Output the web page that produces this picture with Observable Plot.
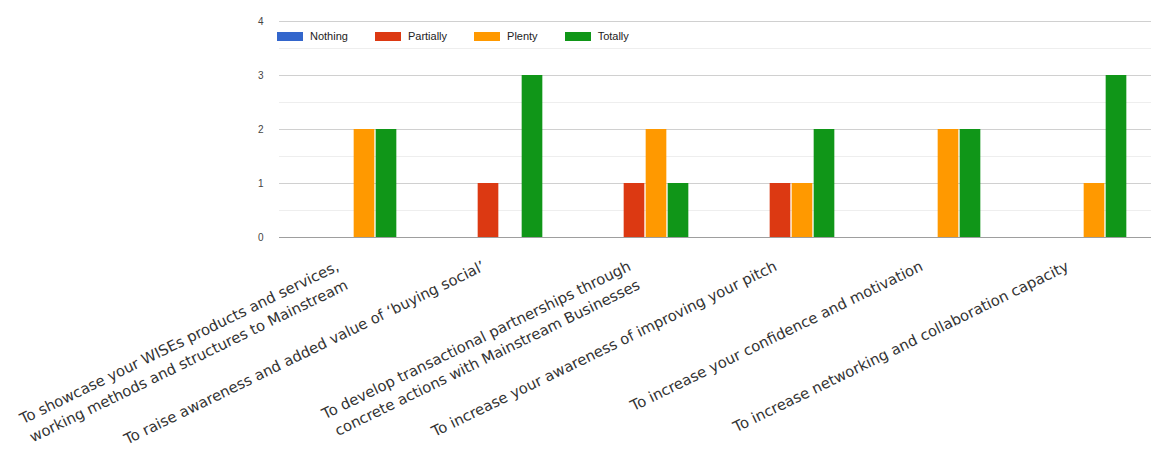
<!DOCTYPE html>
<html>
<head>
<meta charset="utf-8">
<script src="https://cdn.jsdelivr.net/npm/d3@7"></script>
<script src="https://cdn.jsdelivr.net/npm/@observablehq/plot@0.6"></script>
<style>
  body { margin: 0; background: #fff; font-family: "Liberation Sans", Arial, sans-serif; }
  #wrap { position: relative; width: 1151px; height: 456px; overflow: hidden; }
  #legend { position: absolute; left: 277px; top: 30px; display: flex; align-items: center; font-size: 11px; color: #222; }
  #legend .item { display: flex; align-items: center; margin-right: 27px; }
  #legend .sw { width: 26px; height: 9px; margin-right: 7px; }
</style>
</head>
<body>
<div id="wrap"><div id="legend"></div></div>
<script>
const categories = [
  "To showcase your WISEs products and services,\nworking methods and structures to Mainstream",
  "To raise awareness and added value of \u2018buying social\u2019",
  "To develop transactional partnerships through\nconcrete actions with Mainstream Businesses",
  "To increase your awareness of improving your pitch",
  "To increase your confidence and motivation",
  "To increase networking and collaboration capacity"
];
const seriesNames = ["Nothing", "Partially", "Plenty", "Totally"];
const seriesColors = ["#3366cc", "#dc3912", "#ff9900", "#109618"];
const nothing   = [0, 0, 0, 0, 0, 0];
const partially = [0, 1, 1, 1, 0, 0];
const plenty    = [2, 0, 2, 1, 2, 1];
const totally   = [2, 3, 1, 2, 2, 3];
const yTicks = [0, 1, 2, 3, 4];
const yMinor = [0.5, 1.5, 2.5, 3.5];

const seriesValues = [nothing, partially, plenty, totally];
const rows = [];
seriesNames.forEach((s, si) => categories.forEach((c, ci) => rows.push({category: c, series: s, si, value: seriesValues[si][ci]})));

const W = 1151, H = 456, mL = 279, mR = -6, mT = 21, mB = H - 237;
const bandW = (W - mL - mR) / categories.length;
const barW = 22;

const barMarks = seriesNames.map((s, si) => {
  const left = bandW / 2 - 2 * barW + si * barW + 0.5;
  const right = bandW - left - barW + 1;
  return Plot.barY(rows.filter(d => d.si === si && d.value > 0), {
    x: "category", y: "value", fill: seriesColors[si], insetLeft: left, insetRight: right
  });
});

const chart = Plot.plot({
  width: W, height: H,
  marginLeft: mL, marginRight: mR, marginTop: mT, marginBottom: mB,
  style: {fontSize: "10px", fontFamily: "'Liberation Sans', Arial, sans-serif", color: "#444", background: "transparent"},
  x: {domain: categories, padding: 0, axis: null},
  y: {domain: [0, 4], ticks: yTicks, tickSize: 0, tickPadding: 16, label: null, tickFormat: d => String(d)},
  marks: [
    Plot.ruleY(yMinor, {stroke: "#eeeeee"}),
    Plot.ruleY(yTicks.filter(t => t > 0), {stroke: "#d0d0d0"}),
    ...barMarks,
    Plot.ruleY([0], {stroke: "#9e9e9e", strokeWidth: 1.2}),
    Plot.text(categories, {
      x: d => d, text: d => d, frameAnchor: "bottom",
      dx: -20, dy: 19, rotate: -26, textAnchor: "end", lineAnchor: "top",
      lineHeight: 1.4, fontSize: 14.8, fontFamily: "'DejaVu Sans', sans-serif", fill: "#333"
    })
  ]
});
document.getElementById("wrap").prepend(chart);

const legend = document.getElementById("legend");
seriesNames.forEach((s, i) => {
  const item = document.createElement("div");
  item.className = "item";
  const sw = document.createElement("div");
  sw.className = "sw";
  sw.style.background = seriesColors[i];
  const t = document.createElement("span");
  t.textContent = s;
  item.appendChild(sw); item.appendChild(t);
  legend.appendChild(item);
});
</script>
</body>
</html>
